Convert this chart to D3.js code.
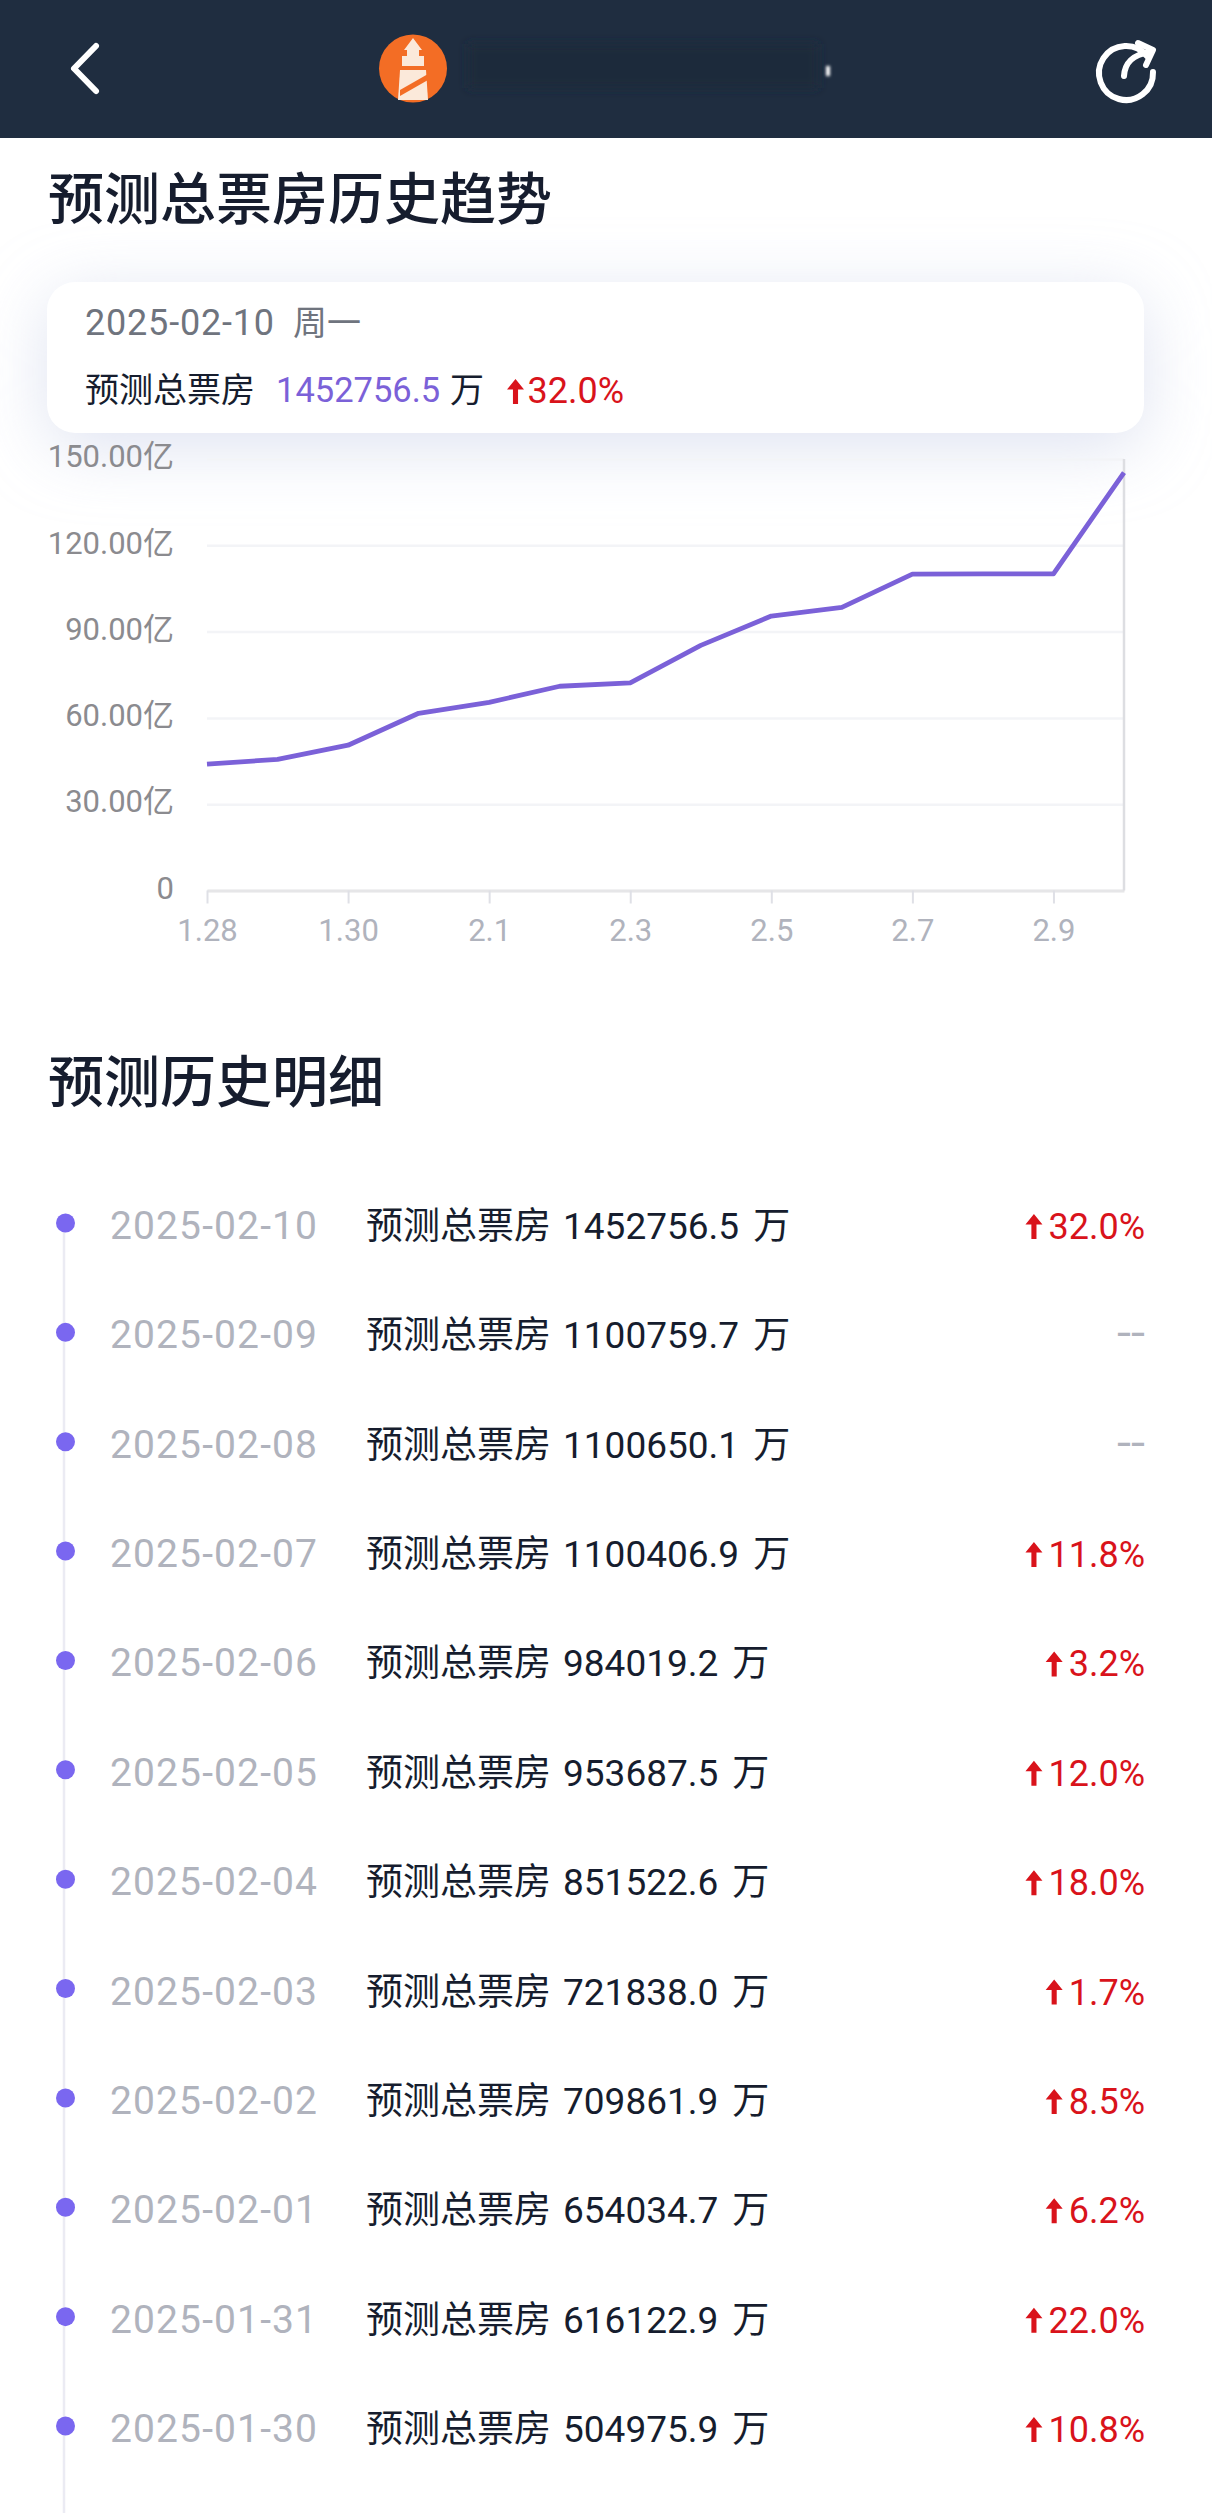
<!DOCTYPE html>
<html>
<head>
<meta charset="utf-8">
<script src="https://cdnjs.cloudflare.com/ajax/libs/d3/7.8.5/d3.min.js"></script>
<style>
  html, body { margin: 0; padding: 0; background: #fff; }
  svg { display: block; }
  text { font-family: Roboto, "Noto Sans CJK SC", sans-serif; }
</style>
</head>
<body>
<script>
  //Data
  var trendDays = ["1.28","1.29","1.30","1.31","2.1","2.2","2.3","2.4","2.5","2.6","2.7","2.8","2.9","2.10"];
  var trendTicks = ["1.28","1.30","2.1","2.3","2.5","2.7","2.9"];
  //yi (100 million), 1.28 and 1.29 estimated from the line
  var trendValues = [43.9, 45.6, 50.5, 61.6, 65.4, 71.0, 72.2, 85.2, 95.4, 98.4, 110.0, 110.1, 110.1, 145.3];
  var yTicks = [0, 30, 60, 90, 120, 150];

  var rowDates = ["2025-02-10","2025-02-09","2025-02-08","2025-02-07","2025-02-06","2025-02-05",
                  "2025-02-04","2025-02-03","2025-02-02","2025-02-01","2025-01-31","2025-01-30"];
  var rowTotals = [1452756.5, 1100759.7, 1100650.1, 1100406.9, 984019.2, 953687.5,
                   851522.6, 721838.0, 709861.9, 654034.7, 616122.9, 504975.9];
  var rowChanges = [32.0, null, null, 11.8, 3.2, 12.0, 18.0, 1.7, 8.5, 6.2, 22.0, 10.8];

  var W = 1212, H = 2513;
  var purple = "#7b61d8", red = "#d9131b", grey = "#b0b3bd", ink = "#161d2e";

  var svg = d3.select("body").append("svg").attr("width", W).attr("height", H);
  var defs = svg.append("defs");

  defs.append("filter").attr("id", "cardShadow").attr("filterUnits", "userSpaceOnUse")
      .attr("x", -200).attr("y", 100).attr("width", 1612).attr("height", 600)
    .append("feGaussianBlur").attr("stdDeviation", 34);
  defs.append("filter").attr("id", "smudge")
      .attr("x", "-50%").attr("y", "-50%").attr("width", "200%").attr("height", "200%")
    .append("feGaussianBlur").attr("stdDeviation", 5);
  defs.append("filter").attr("id", "smudgeSmall")
      .attr("x", "-200%").attr("y", "-100%").attr("width", "500%").attr("height", "300%")
    .append("feGaussianBlur").attr("stdDeviation", 1.5);

  //little red up arrow, x = left edge, y = top
  function upArrow(g, x, y, w, h) {
    var head = h * 0.42, sw = w * 0.3, c = x + w / 2;
    g.append("path")
      .attr("d", "M" + c + "," + y + "L" + (x + w) + "," + (y + head) + "L" + (c + sw / 2) + "," + (y + head) +
                 "L" + (c + sw / 2) + "," + (y + h) + "L" + (c - sw / 2) + "," + (y + h) +
                 "L" + (c - sw / 2) + "," + (y + head) + "L" + x + "," + (y + head) + "Z")
      .attr("fill", red);
  }

  //header bar
  var header = svg.append("g");
  header.append("rect").attr("width", W).attr("height", 138).attr("fill", "#1f2d40");
  header.append("path").attr("d", "M96,46 L74,68.5 L96,91")
    .attr("fill", "none").attr("stroke", "#fff").attr("stroke-width", 6)
    .attr("stroke-linecap", "round").attr("stroke-linejoin", "round");

  header.append("circle").attr("cx", 413).attr("cy", 68.5).attr("r", 34).attr("fill", "#f36d25");
  header.append("path").attr("d", "M413,38 L422,50 L419,50 L419,56 L424,56 L424,66 L402,66 L402,56 L407,56 L407,50 L404,50 Z").attr("fill", "#fbe9da");
  header.append("path").attr("d", "M400,70 L426,70 L428,100 L398,100 Z").attr("fill", "#fbe9da");
  header.append("path").attr("d", "M400,90 L428,74 L428,80 L400,96 Z").attr("fill", "#f36d25");

  //blurred out title
  header.append("rect").attr("x", 468).attr("y", 44).attr("width", 350).attr("height", 44)
    .attr("fill", "#1d2a3b").attr("filter", "url(#smudge)");
  header.append("rect").attr("x", 826).attr("y", 66).attr("width", 4).attr("height", 10)
    .attr("fill", "#fff").attr("filter", "url(#smudgeSmall)");

  header.append("path").attr("d", "M1147,56 A27,27 0 1 0 1153,72")
    .attr("fill", "none").attr("stroke", "#fff").attr("stroke-width", 6).attr("stroke-linecap", "round");
  header.append("path").attr("d", "M1124,76 C1125,62 1133,55 1149,52 M1138,43 L1153,50 L1146,65")
    .attr("fill", "none").attr("stroke", "#fff").attr("stroke-width", 6)
    .attr("stroke-linecap", "round").attr("stroke-linejoin", "round");

  //section titles
  svg.append("text").attr("x", 48).attr("y", 219).attr("font-size", 56).attr("font-weight", 500)
    .attr("fill", ink).text("预测总票房历史趋势");
  svg.append("text").attr("x", 48).attr("y", 1102).attr("font-size", 56).attr("font-weight", 500)
    .attr("fill", ink).text("预测历史明细");

  //shadow goes below the chart, card goes above it
  svg.append("rect").attr("x", 48).attr("y", 296).attr("width", 1095).attr("height", 151).attr("rx", 28)
    .attr("fill", "#c9d0e8").attr("fill-opacity", 0.62).attr("filter", "url(#cardShadow)");

  //Viz space
  var x = d3.scalePoint().domain(trendDays).range([207, 1124]);
  var y = d3.scaleLinear().domain([0, 150]).range([890.5, 459]);

  var yAxis = d3.axisLeft(y).tickValues(yTicks).tickSize(-917).tickPadding(33)
    .tickFormat(function(d) { return d === 0 ? "0" : d3.format(".2f")(d) + "亿"; });
  var gy = svg.append("g").attr("transform", "translate(207,0)").call(yAxis);
  gy.select(".domain").remove();
  gy.selectAll(".tick line").attr("stroke", "#f3f4f7").attr("stroke-width", 2.5);
  gy.selectAll(".tick text").attr("font-size", 31).attr("fill", "#8b8b8f").attr("dy", "0.25em")
    .style("font-family", 'Roboto, "Noto Sans CJK SC", sans-serif');

  var xAxis = d3.axisBottom(x).tickValues(trendTicks).tickSizeInner(13).tickSizeOuter(0).tickPadding(15);
  var gx = svg.append("g").attr("transform", "translate(0,890.5)").call(xAxis);
  gx.select(".domain").attr("stroke", "#e6e6e8").attr("stroke-width", 3);
  gx.selectAll(".tick line").attr("stroke", "#dfe0e6").attr("stroke-width", 2);
  gx.selectAll(".tick text").attr("font-size", 31).attr("fill", grey)
    .style("font-family", 'Roboto, "Noto Sans CJK SC", sans-serif');

  //right edge of the plot
  svg.append("line").attr("x1", x("2.10")).attr("x2", x("2.10")).attr("y1", y(150)).attr("y2", y(0))
    .attr("stroke", "#dddee2").attr("stroke-width", 2.5);

  var line = d3.line()
    .x(function(d, i) { return x(trendDays[i]); })
    .y(function(d) { return y(d); });
  svg.append("path").datum(trendValues).attr("d", line)
    .attr("fill", "none").attr("stroke", purple).attr("stroke-width", 4.8).attr("stroke-linejoin", "round");

  //tooltip card
  var card = svg.append("g");
  card.append("rect").attr("x", 47).attr("y", 282).attr("width", 1097).attr("height", 151).attr("rx", 28).attr("fill", "#fff");
  card.append("text").attr("x", 85).attr("y", 335).attr("font-size", 36).attr("fill", "#6f747e")
    .attr("textLength", 189).attr("lengthAdjust", "spacing").text(rowDates[0]);
  card.append("text").attr("x", 293).attr("y", 335).attr("font-size", 34).attr("fill", "#6f747e").text("周一");
  card.append("text").attr("x", 85).attr("y", 402).attr("font-size", 34).attr("fill", ink).text("预测总票房");
  card.append("text").attr("x", 276).attr("y", 402).attr("font-size", 34.5).attr("fill", purple).text(rowTotals[0].toFixed(1));
  card.append("text").attr("x", 450).attr("y", 402).attr("font-size", 34).attr("fill", ink).text("万");
  upArrow(card, 507, 379, 17, 25);
  card.append("text").attr("x", 624).attr("y", 403).attr("text-anchor", "end").attr("font-size", 36)
    .attr("fill", red).text(rowChanges[0].toFixed(1) + "%");

  //history list
  var rowY = d3.scaleLinear().domain([0, rowDates.length - 1]).range([1223, 2426]);

  svg.append("line").attr("x1", 64).attr("x2", 64).attr("y1", rowY(0)).attr("y2", H)
    .attr("stroke", "#ebebf3").attr("stroke-width", 2.5);

  var rows = svg.selectAll("g.row").data(rowDates).enter().append("g").attr("class", "row")
    .attr("transform", function(d, i) { return "translate(0," + rowY(i) + ")"; });

  rows.append("circle").attr("cx", 65.5).attr("cy", 0).attr("r", 9.5).attr("fill", "#7a67f0");

  rows.append("text").attr("x", 110).attr("y", 16).attr("font-size", 39).attr("fill", grey)
    .attr("textLength", 207).attr("lengthAdjust", "spacing")
    .text(function(d) { return d; });

  var main = rows.append("text").attr("x", 366).attr("y", 16).attr("font-size", 37).attr("fill", ink);
  main.append("tspan").text("预测总票房");
  main.append("tspan").attr("dx", 12).text(function(d, i) { return rowTotals[i].toFixed(1); });
  main.append("tspan").attr("dx", 14).text("万");

  //percent text, or two dashes where there is no change
  rows.filter(function(d, i) { return rowChanges[i] === null; })
    .append("text").attr("class", "pct").attr("x", 1117).attr("y", 16).attr("font-size", 44).attr("fill", grey)
    .attr("textLength", 28).attr("lengthAdjust", "spacingAndGlyphs").text("--");

  //arrow sits left of the percent text, which is wider for two digit values
  rows.filter(function(d, i) { return rowChanges[i] !== null; }).each(function(d) {
    var g = d3.select(this);
    var change = rowChanges[rowDates.indexOf(d)];
    var t = g.append("text").attr("class", "pct").attr("x", 1145).attr("y", 16).attr("text-anchor", "end")
      .attr("font-size", 36).attr("fill", red).text(change.toFixed(1) + "%");
    upArrow(g, 1145 - t.node().getComputedTextLength() - 23, -9, 17, 25);
  });
</script>
</body>
</html>
